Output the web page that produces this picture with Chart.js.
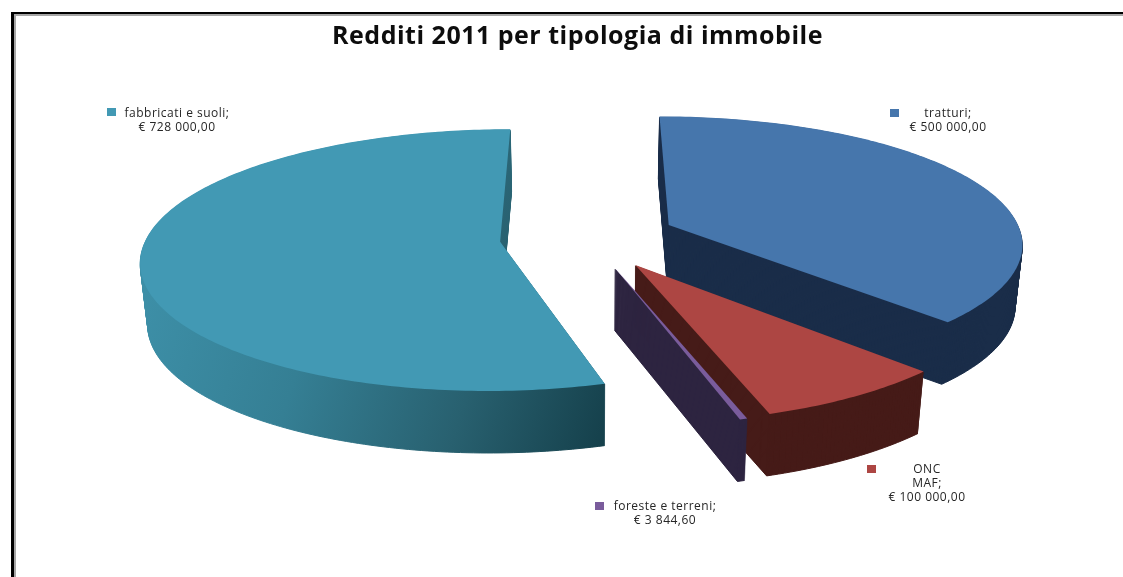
<!DOCTYPE html>
<html><head><meta charset="utf-8">
<style>html,body{margin:0;padding:0;background:#fff;overflow:hidden}canvas{display:block}</style>
<script src="https://cdn.jsdelivr.net/npm/chart.js@4"></script>
</head><body>
<canvas id="c" width="1123" height="577"></canvas>
<script>
const chartTitle = 'Redditi 2011 per tipologia di immobile';
const categories = ['tratturi', 'ONC MAF', 'foreste e terreni', 'fabbricati e suoli'];
const values = [500000, 100000, 3844.60, 728000];
const topColors = ['#4676AC', '#AD4643', '#7A5C9C', '#4299B4'];
const wallColors = ['#1A2D49', '#461B18', '#2D2440', null];
const drawOrder = [0, 3, 1, 2];

// perspective camera used to tilt the pie
const cam = {vx: 588, vy: 237, rx: 353.6, ry: 127, px: 0.13, py: 0.14, explode: 0.25, depth: 62, shrink: 0.017};
// label anchors: marker box and centre of text block
const labelStyle = [
  {mx: 890, my: 109, cx: 948, cy: 114, lines: n => [n + ';']},
  {mx: 867, my: 465, cx: 927, cy: 470, lines: n => [...n.split(' ').slice(0, -1), n.split(' ').slice(-1)[0] + ';']},
  {mx: 595, my: 502, cx: 665, cy: 507, lines: n => [n + ';']},
  {mx: 107, my: 108, cx: 177, cy: 114, lines: n => [n + ';']}
];
const fmt = v => {
  const [i, d] = v.toFixed(2).split('.');
  return '€ ' + i.replace(/\B(?=(\d{3})+$)/g, ' ') + ',' + d;
};

function projected(ctx, el, t, fill) {
  const R = el.outerRadius, mid = (el.startAngle + el.endAngle) / 2;
  const ex = cam.explode * Math.cos(mid), ey = cam.explode * Math.sin(mid);
  const map = (x, y) => {
    const wx = (x - el.x) / R + ex, wy = (y - el.y) / R + ey;
    const k = 1 - cam.shrink * t;
    return [cam.vx + cam.rx * wx * k / (1 - cam.px * wy),
            cam.vy + cam.ry * wy / (1 - cam.py * wy) + cam.depth * t];
  };
  return new Proxy(ctx, {
    get(o, key) {
      if (key === 'arc') return (x, y, r, a0, a1, ccw) => {
        let d = a1 - a0;
        if (ccw && d > 0) d -= 2 * Math.PI;
        if (!ccw && d < 0) d += 2 * Math.PI;
        const n = Math.max(1, Math.ceil(Math.abs(d) * 60));
        for (let i = 0; i <= n; i++) {
          const a = a0 + d * i / n;
          o.lineTo(...map(x + r * Math.cos(a), y + r * Math.sin(a)));
        }
      };
      if (key === 'moveTo') return (x, y) => o.moveTo(...map(x, y));
      if (key === 'lineTo') return (x, y) => o.lineTo(...map(x, y));
      if (key === 'fill' && t > 0) return () => {
        o.fill();
        o.lineWidth = 1; o.strokeStyle = fill; o.stroke();
      };
      const v = o[key];
      return typeof v === 'function' ? v.bind(o) : v;
    },
    set(o, key, v) { o[key] = key === 'fillStyle' ? fill : v; return true; }
  });
}

const pie3d = {
  id: 'pie3d',
  beforeDraw(chart) {
    const c = chart.ctx;
    c.save();
    c.fillStyle = '#fff'; c.fillRect(0, 0, 1123, 577);
    c.fillStyle = '#a6a6a6'; c.fillRect(14, 14, 1109, 2); c.fillRect(14, 14, 2, 563);
    c.fillStyle = '#000'; c.fillRect(11, 12, 1112, 2); c.fillRect(11, 12, 3, 565);
    c.restore();
    c.letterSpacing = '0.5px';
  },
  beforeDatasetsDraw(chart) {
    const c = chart.ctx, els = chart.getDatasetMeta(0).data;
    const fabGrad = c.createLinearGradient(141, 300, 604, 447);
    fabGrad.addColorStop(0, '#3D8FA7');
    fabGrad.addColorStop(0.35, '#357F94');
    fabGrad.addColorStop(0.7, '#28606F');
    fabGrad.addColorStop(1, '#15404B');
    drawOrder.forEach(i => {
      const el = els[i];
      const wall = wallColors[i] || fabGrad;
      for (let d = cam.depth; d > 0; d--) {
        el.draw(projected(c, el, d / cam.depth, wall));
      }
      el.draw(projected(c, el, 0, topColors[i]));
    });
    return false;
  },
  afterDraw(chart) {
    const c = chart.ctx;
    c.save();
    c.font = '12px "Open Sans"';
    c.letterSpacing = '0.5px';
    c.textAlign = 'center';
    c.textBaseline = 'middle';
    categories.forEach((name, i) => {
      const s = labelStyle[i];
      c.fillStyle = topColors[i];
      c.fillRect(s.mx, s.my, 9, 8);
      c.fillStyle = '#262626';
      [...s.lines(name), fmt(values[i])].forEach((ln, j) => c.fillText(ln, s.cx, s.cy + j * 14));
    });
    c.restore();
  }
};

new Chart(document.getElementById('c'), {
  type: 'pie',
  data: {labels: categories, datasets: [{data: values, backgroundColor: topColors, borderWidth: 0}]},
  plugins: [pie3d],
  options: {
    responsive: false, animation: false, devicePixelRatio: 1, events: [],
    layout: {padding: {left: 32}},
    plugins: {
      legend: {display: false}, tooltip: {enabled: false},
      title: {display: true, text: chartTitle, color: '#0d0d0d',
        font: {family: '"Open Sans"', size: 25, weight: 'bold', lineHeight: 1.2},
        padding: {top: 22, bottom: 10}}
    }
  }
});
</script>
</body></html>
